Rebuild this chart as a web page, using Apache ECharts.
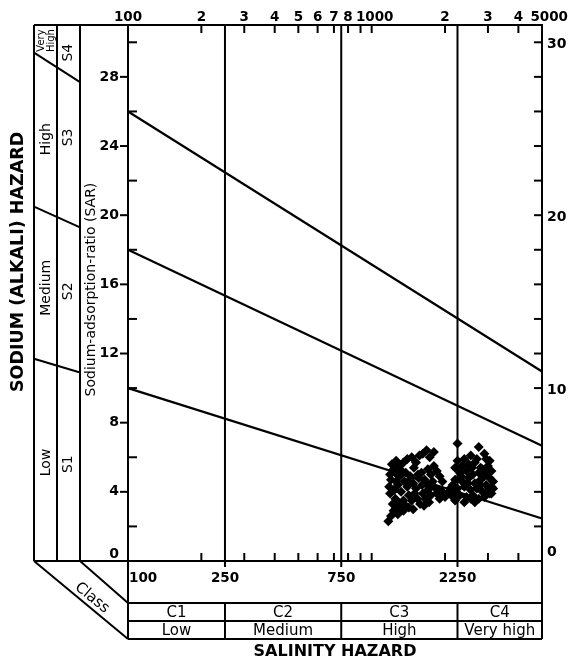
<!DOCTYPE html>
<html><head><meta charset="utf-8">
<script src="https://cdn.jsdelivr.net/npm/echarts@6/dist/echarts.min.js"></script>
<style>html,body{margin:0;padding:0;background:#fff}#c{width:568px;height:662px}</style>
</head><body><div id="c"></div><script>
// ---- data ----
const ecMin = 100, ecMax = 5000;
const sarMin = 0, sarMax = 31;
const classBounds = [100, 250, 750, 2250, 5000];
const boundaryLabels = ['100', '250', '750', '2250'];
const classCodes = ['C1', 'C2', 'C3', 'C4'];
const classNames = ['Low', 'Medium', 'High', 'Very high'];
const ecTicks = [200, 300, 400, 500, 600, 700, 800, 900, 1000, 2000, 3000, 4000];
const ecTopLabelValues = [100, 200, 300, 400, 500, 600, 700, 800, 1000, 2000, 3000, 4000, 5000];
const ecTopLabelTexts = ['100', '2', '3', '4', '5', '6', '7', '8', '1000', '2', '3', '4', '5000'];
const sarLeftLabels = [0, 4, 8, 12, 16, 20, 24, 28];
const sarLeftMinor = [2, 6, 10, 14, 18, 22, 26, 30];
const sarRightTicks = [2, 4, 6, 8, 10, 12, 14, 16, 18, 20, 22, 24, 26, 28, 30];
const sarRightLabels = [0, 10, 20, 30];
const lineS1S2 = [[100, 10.0], [5000, 2.46]];
const lineS2S3 = [[100, 18.0], [5000, 6.67]];
const lineS3S4 = [[100, 26.0], [5000, 10.96]];
const sodiumClasses = ['Low', 'Medium', 'High'];
const sodiumClassMid = [5.7, 15.8, 24.4];
const sodiumCodes = ['S1', 'S2', 'S3', 'S4'];
const sodiumCodeMid = [5.6, 15.6, 24.5, 29.4];
const ecValues = [1170,1200,1230,1260,1300,1330,1280,1350,1380,1250,1190,1180,1200,1190,1230,1210,1260,1300,1350,1400,
  1460,1520,1570,1620,1680,1730,1800,1240,1280,1320,1360,1400,1440,1480,1520,1560,1600,1650,1700,1750,
  1800,1850,1900,1950,1300,1380,1420,1460,1500,1540,1580,1620,1660,1700,1750,1800,1850,1900,1950,2000,
  1350,1420,1480,1640,1720,1220,1270,1330,1490,1550,1610,1690,1780,2050,2100,1880,1410,1260,
  2250,2750,2550,2950,2250,2400,2350,2500,2650,2800,3000,3100,2300,2450,2600,2750,2900,3050,3150,2200,
  2350,2500,2650,2800,2950,3100,2250,2400,2550,2700,2850,3000,3100,2300,2450,2600,2750,2900,2200,2400,
  2650,2180,2150,2700,2580,3050,2850,2480,2330,3050,2200,2550,2800,2950,3150,2120,2900];
const sarValues = [2.3,2.6,2.9,3.1,3.3,3.0,2.7,3.5,3.2,3.6,3.9,4.3,4.7,5.0,5.3,5.6,5.8,5.5,5.7,5.9,
  6.0,5.7,6.1,6.2,6.4,6.0,6.3,4.1,4.4,4.0,4.6,4.3,4.9,4.5,4.2,4.8,5.1,4.7,5.3,5.0,
  5.5,5.2,4.9,4.6,4.9,5.1,3.8,3.5,3.9,3.6,3.3,3.9,3.6,4.1,3.8,4.3,3.9,3.6,4.0,3.7,
  2.9,3.1,3.0,3.2,3.4,3.3,5.0,5.2,5.4,5.0,4.4,4.4,4.6,3.9,4.2,4.1,4.6,4.6,
  6.8,6.6,6.1,5.9,5.8,5.9,5.5,5.6,5.7,5.4,5.5,5.2,5.1,5.2,5.0,5.1,4.9,4.8,4.6,4.7,
  4.6,4.8,4.5,4.7,4.4,4.3,4.2,4.3,4.1,4.2,4.0,4.1,3.9,3.8,3.7,3.8,3.6,3.7,3.5,3.4,
  3.4,3.9,4.4,5.9,5.4,5.8,5.3,4.5,4.9,3.9,5.4,3.6,4.4,5.1,4.2,3.8,6.2];

const FONT = '"DejaVu Sans", sans-serif';
const points = ecValues.map((v, i) => [v, sarValues[i]]);

function txt(children, text, x, y, font, align, vAlign, rot) {
  children.push({
    type: 'text', x: x, y: y, rotation: rot || 0, silent: true,
    style: {
      text: text, font: font, fill: '#000', textFill: '#000',
      align: align, textAlign: align, verticalAlign: vAlign, textVerticalAlign: vAlign
    }
  });
}
function ln(children, x1, y1, x2, y2, w) {
  children.push({ type: 'line', silent: true, shape: { x1: x1, y1: y1, x2: x2, y2: y2 },
    style: { stroke: '#000', lineWidth: w || 2 } });
}

function renderFrame(params, api) {
  const ch = [];
  const X = v => api.coord([v, 0])[0];
  const Y = v => api.coord([ecMin, v])[1];
  const xL = X(ecMin), xR = X(ecMax), yB = Y(sarMin), yT = Y(sarMax);
  const topFont = 'bold 13.5px ' + FONT;
  const numFont = 'bold 14px ' + FONT;
  // top/bottom minor ticks
  ecTicks.forEach(v => { ln(ch, X(v), yT, X(v), yT + 8); ln(ch, X(v), yB, X(v), yB - 8); });
  ecTopLabelValues.forEach((v, i) => {
    const t = ecTopLabelTexts[i];
    if (t === '5000') txt(ch, t, 568, yT - 8, topFont, 'right', 'middle');
    else txt(ch, t, X(v) + (t === '1000' ? 3 : 0), yT - 8, topFont, 'center', 'middle');
  });
  // left axis ticks
  sarLeftLabels.forEach(v => {
    if (v > 0) ln(ch, xL - 8, Y(v), xL, Y(v));
    txt(ch, String(v), xL - 9, v === 0 ? Y(v) - 7 : Y(v), numFont, 'right', 'middle');
  });
  sarLeftMinor.forEach(v => ln(ch, xL, Y(v), xL + 9, Y(v)));
  // right axis
  sarRightTicks.forEach(v => ln(ch, xR - 8, Y(v), xR, Y(v)));
  sarRightLabels.forEach(v => txt(ch, String(v), xR + 5, v === 0 ? Y(v) - 9 : Y(v) + 2, numFont, 'left', 'middle'));
  // class boundaries (vertical)
  classBounds.slice(1, 4).forEach(v => ln(ch, X(v), yT, X(v), yB + 6));
  // classification table
  const r1 = yB + 42, r2 = yB + 60, r3 = yB + 78;
  ln(ch, xL, yT, xL, r3); ln(ch, xR, yT, xR, r3);
  ln(ch, xL, r1, xR, r1); ln(ch, xL, r2, xR, r2); ln(ch, xL, r3, xR, r3);
  classBounds.slice(1, 4).forEach(v => ln(ch, X(v), r1, X(v), r3));
  boundaryLabels.forEach((t, i) => {
    const v = classBounds[i];
    if (i === 0) txt(ch, t, xL + 1, yB + 17, topFont, 'left', 'middle');
    else txt(ch, t, X(v), yB + 17, topFont, 'center', 'middle');
  });
  classCodes.forEach((t, i) => {
    const cx = (X(classBounds[i]) + X(classBounds[i + 1])) / 2;
    txt(ch, t, cx, (r1 + r2) / 2 + 1, '15px ' + FONT, 'center', 'middle');
    txt(ch, classNames[i], cx, (r2 + r3) / 2 + 1, '15px ' + FONT, 'center', 'middle');
  });
  txt(ch, 'SALINITY HAZARD', (xL + xR) / 2, r3 + 13, 'bold 16px ' + FONT, 'center', 'middle');
  // left panel
  const c0 = xL - 94, c1 = xL - 71, c2 = xL - 48;
  ln(ch, c0, yT, xL, yT); ln(ch, c0, yB, xL, yB);
  ln(ch, c0, yT, c0, yB); ln(ch, c1, yT, c1, yB); ln(ch, c2, yT, c2, yB);
  ln(ch, c0, yB, xL, r3); ln(ch, c2, yB, xL, r1);
  ln(ch, c0, Y(29.4), c2, Y(27.7)); ln(ch, c0, Y(20.5), c2, Y(19.3)); ln(ch, c0, Y(11.7), c2, Y(10.9));
  const rot = Math.PI / 2;
  sodiumClasses.forEach((t, i) => txt(ch, t, (c0 + c1) / 2 + 1, Y(sodiumClassMid[i]), '14px ' + FONT, 'center', 'middle', rot));
  txt(ch, 'Very\nHigh', (c0 + c1) / 2 + 1, Y(30.1), '10px ' + FONT, 'center', 'middle', rot);
  sodiumCodes.forEach((t, i) => txt(ch, t, (c1 + c2) / 2, Y(sodiumCodeMid[i]), '14px ' + FONT, 'center', 'middle', rot));
  txt(ch, 'Sodium-adsorption-ratio (SAR)', c2 + 11, Y(15.7), '14px ' + FONT, 'center', 'middle', rot);
  txt(ch, 'SODIUM (ALKALI) HAZARD', 18, Y(17.3), 'bold 17.5px ' + FONT, 'center', 'middle', rot);
  const ang = Math.atan2(r3 - yB, xL - c0);
  txt(ch, 'Class', (c0 + c2) / 2 + 35, yB + 37, '15px ' + FONT, 'center', 'middle', -ang);
  return { type: 'group', children: ch };
}

const chart = echarts.init(document.getElementById('c'), null, { renderer: 'canvas' });
const hazardLine = { color: '#000', width: 2.2 };
chart.setOption({
  animation: false,
  backgroundColor: '#fff',
  grid: { left: 128, top: 25, width: 414, height: 536, show: true, borderColor: '#000', borderWidth: 2, backgroundColor: 'transparent' },
  xAxis: { type: 'log', logBase: 10, min: ecMin, max: ecMax, axisLine: { show: false }, axisTick: { show: false }, axisLabel: { show: false }, splitLine: { show: false } },
  yAxis: { type: 'value', min: sarMin, max: sarMax, axisLine: { show: false }, axisTick: { show: false }, axisLabel: { show: false }, splitLine: { show: false } },
  series: [
    { type: 'custom', name: 'frame', clip: false, silent: true, z: 3, renderItem: renderFrame, data: [[ecMin, sarMin]] },
    { type: 'line', name: 'S1/S2', data: lineS1S2, symbol: 'none', lineStyle: hazardLine, z: 4, silent: true },
    { type: 'line', name: 'S2/S3', data: lineS2S3, symbol: 'none', lineStyle: hazardLine, z: 4, silent: true },
    { type: 'line', name: 'S3/S4', data: lineS3S4, symbol: 'none', lineStyle: hazardLine, z: 4, silent: true },
    { type: 'scatter', name: 'samples', data: points, symbol: 'diamond', symbolSize: 10, itemStyle: { color: '#000', opacity: 1 }, z: 5, silent: true }
  ]
});
</script></body></html>
